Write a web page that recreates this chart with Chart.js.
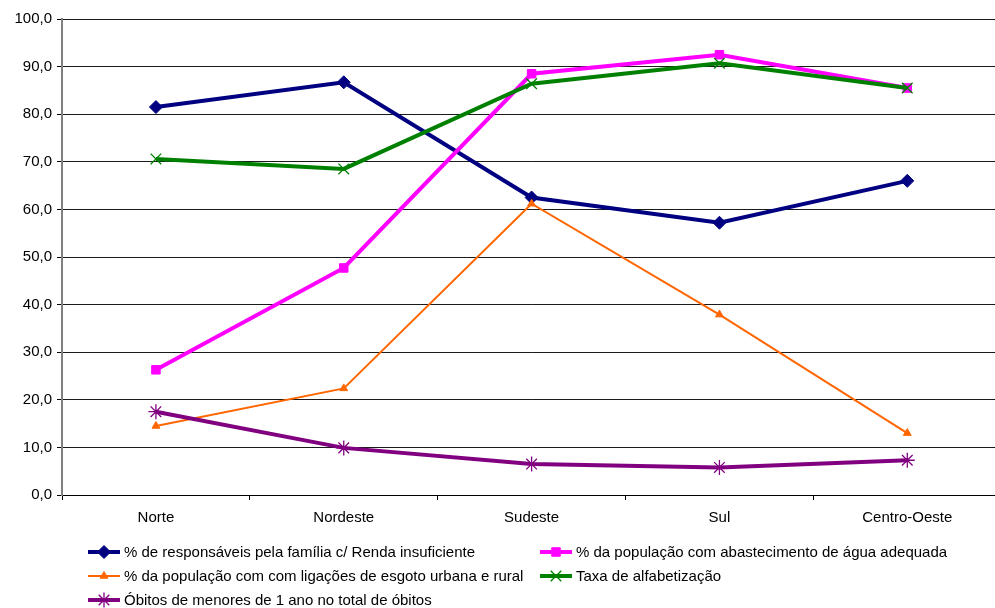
<!DOCTYPE html>
<html>
<head>
<meta charset="utf-8">
<script src="https://cdn.jsdelivr.net/npm/chart.js@4.4.1/dist/chart.umd.min.js"></script>
<style>
  html, body { margin: 0; padding: 0; background: #fff; overflow: hidden; }
  #wrap { width: 1010px; height: 608px; }
</style>
</head>
<body>
<div id="wrap"><canvas id="c" width="1010" height="608"></canvas></div>
<script>
// Regions of Brazil
const regions = ['Norte', 'Nordeste', 'Sudeste', 'Sul', 'Centro-Oeste'];

// Indicators by region (%)
const rendaInsuficiente = [81.5, 86.7, 62.5, 57.2, 66.0];
const aguaAdequada      = [26.3, 47.7, 88.5, 92.5, 85.5];
const esgoto            = [14.5, 22.4, 61.2, 37.9, 13.0];
const alfabetizacao     = [70.6, 68.5, 86.4, 90.7, 85.5];
const obitosMenores1    = [17.5, 9.9, 6.5, 5.8, 7.3];

const seriesLabels = [
  '% de responsáveis pela família c/ Renda insuficiente',
  '% da população com abastecimento de água adequada',
  '% da população com com ligações de esgoto urbana e rural',
  'Taxa de alfabetização',
  'Óbitos de menores de 1 ano no total de óbitos'
];

const yTicks = [0, 10, 20, 30, 40, 50, 60, 70, 80, 90, 100];

const FONT = { family: '"Liberation Sans", Arial, sans-serif', size: 15 };

function series(i, data, color, width, style, radius, borderW, fill) {
  return {
    label: seriesLabels[i],
    data: data,
    borderColor: color,
    backgroundColor: fill ? color : 'transparent',
    borderWidth: width,
    pointStyle: style,
    pointRadius: radius,
    pointHoverRadius: radius,
    pointBorderColor: color,
    pointBackgroundColor: color,
    pointBorderWidth: borderW,
    tension: 0,
    order: 5 - i
  };
}

const datasets = [
  series(0, rendaInsuficiente, '#000080', 4, 'rectRot', 6.5, 1, true),
  series(1, aguaAdequada, '#FF00FF', 4, 'rect', 6, 1, true),
  series(2, esgoto, '#FF6600', 2, 'triangle', 4.5, 1, true),
  series(3, alfabetizacao, '#008000', 4, 'crossRot', 7.5, 1.3, false),
  series(4, obitosMenores1, '#800080', 4, 'star', 7.5, 1.3, false)
];

// Legend in two columns below the plot
const legendPlugin = {
  id: 'bottomLegend',
  afterDraw(chart) {
    const ctx = chart.ctx;
    const slots = [[88, 552], [540, 552], [88, 576], [540, 576], [88, 600]];
    chart.data.datasets.forEach((ds, i) => {
      const [x, y] = slots[i];
      ctx.save();
      ctx.strokeStyle = ds.borderColor;
      ctx.lineWidth = ds.borderWidth;
      ctx.beginPath();
      ctx.moveTo(x, y);
      ctx.lineTo(x + 32, y);
      ctx.stroke();
      ctx.fillStyle = ds.pointBackgroundColor;
      ctx.strokeStyle = ds.pointBorderColor;
      ctx.lineWidth = ds.pointBorderWidth;
      Chart.helpers.drawPoint(ctx, { pointStyle: ds.pointStyle, radius: ds.pointRadius, borderWidth: ds.pointBorderWidth }, x + 16, y);
      ctx.fillStyle = '#000';
      ctx.font = FONT.size + 'px ' + FONT.family;
      ctx.textBaseline = 'middle';
      ctx.textAlign = 'left';
      ctx.fillText(ds.label, x + 36, y + 1);
      ctx.restore();
    });
  }
};

new Chart(document.getElementById('c'), {
  type: 'line',
  data: { labels: regions, datasets: datasets },
  plugins: [legendPlugin],
  options: {
    responsive: false,
    animation: false,
    layout: { padding: { top: 19, right: 7, left: 0, bottom: 0 } },
    plugins: { legend: { display: false }, tooltip: { enabled: false } },
    scales: {
      x: {
        offset: true,
        grid: { display: true, drawOnChartArea: false, offset: true, color: '#808080', tickLength: 5, tickColor: '#000' },
        border: { display: true, color: '#000', width: 1 },
        ticks: { color: '#000', font: FONT, padding: 9, maxRotation: 0 },
        afterFit(scale) { scale.height = 113; }
      },
      y: {
        min: 0,
        max: 100,
        afterBuildTicks(scale) { scale.ticks = yTicks.map(v => ({ value: v })); },
        grid: { color: '#1a1a1a', lineWidth: 1, tickLength: 5, tickColor: '#000' },
        border: { display: true, color: '#808080', width: 2 },
        ticks: {
          color: '#000',
          font: FONT,
          padding: 5,
          callback: v => v.toFixed(1).replace('.', ',')
        },
        afterFit(scale) { scale.width = 62; }
      }
    }
  }
});
</script>
</body>
</html>
